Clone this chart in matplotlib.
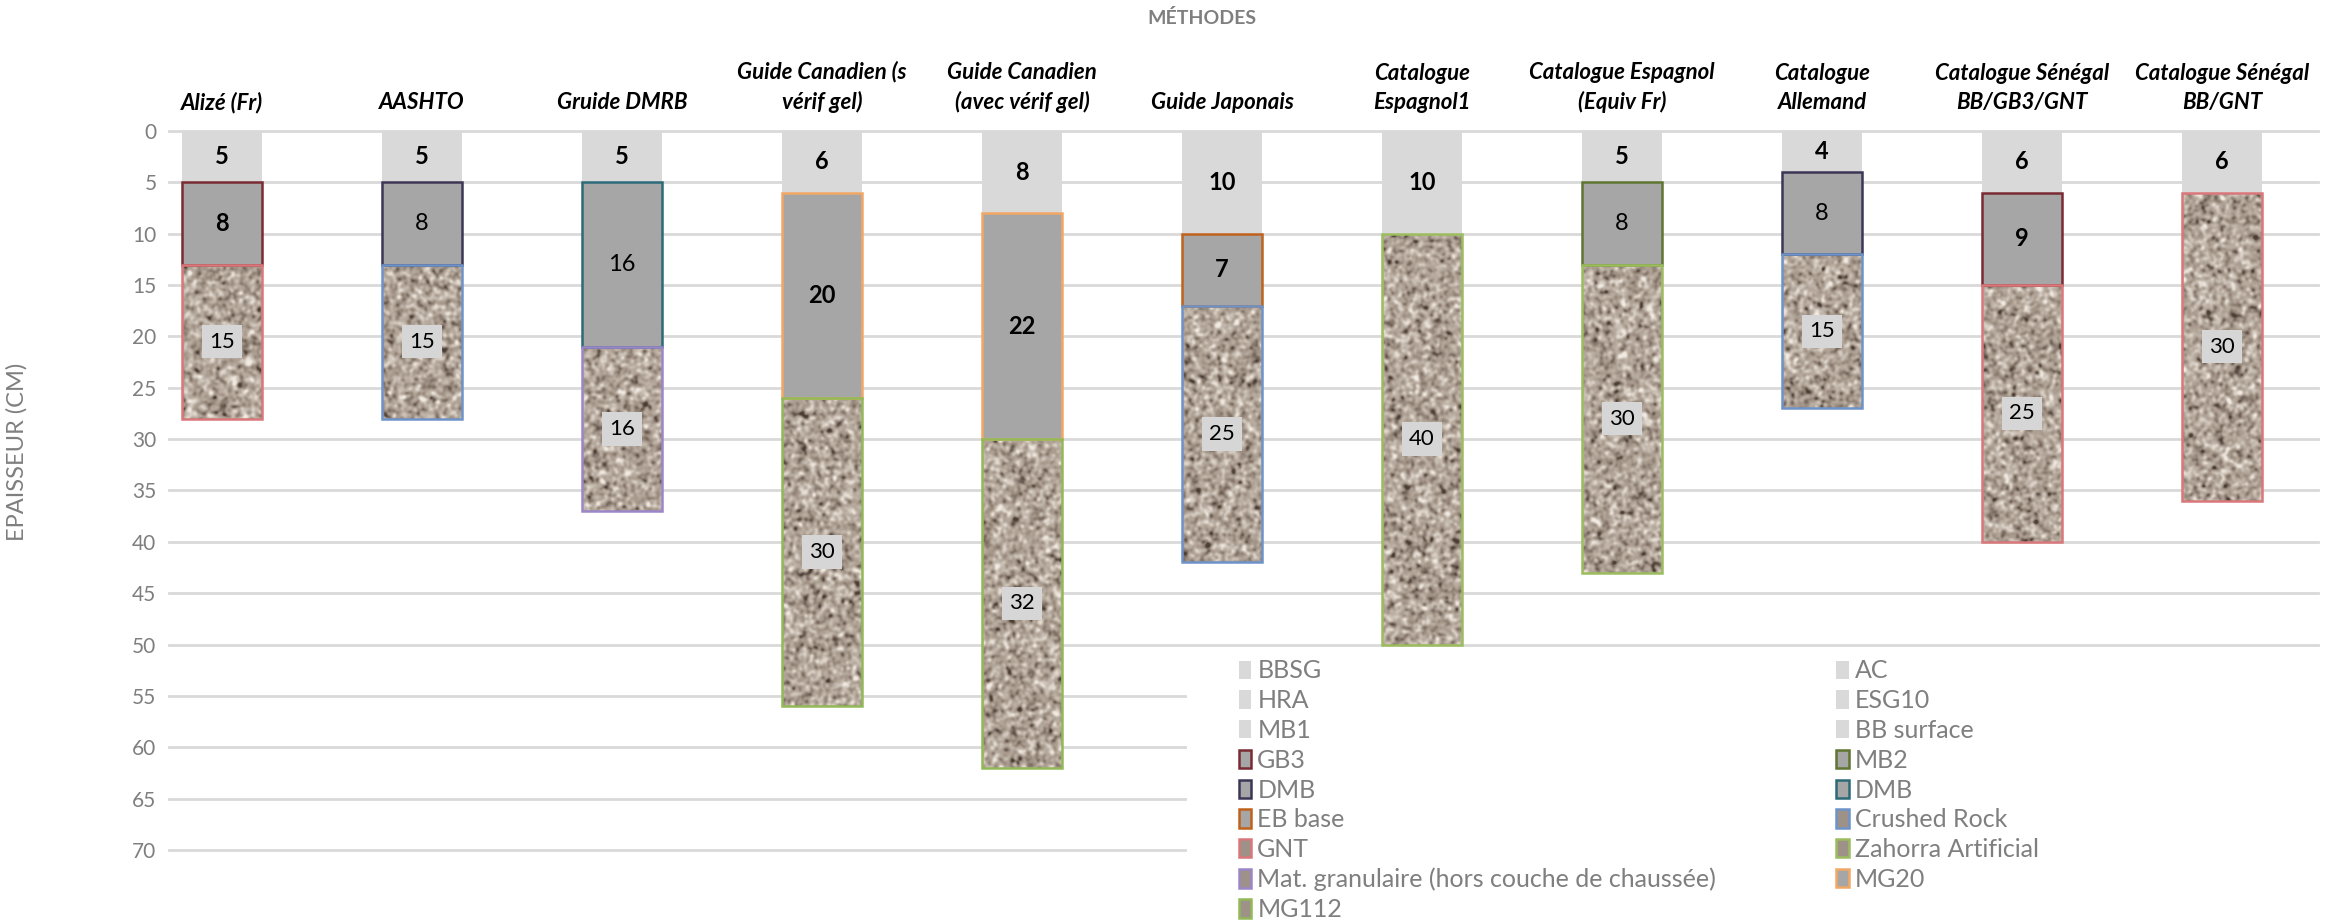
import matplotlib
matplotlib.use('Agg')
import matplotlib.pyplot as plt
import numpy as np
from matplotlib.patches import Patch, Rectangle
from matplotlib.colors import LinearSegmentedColormap

plt.rcParams['font.family'] = ['Lato', 'DejaVu Sans']

# categories (methods) shown on the top axis
categories = ['Alizé (Fr)', 'AASHTO', 'Gruide DMRB', 'Guide Canadien (s\nvérif gel)',
              'Guide Canadien\n(avec vérif gel)', 'Guide Japonais', 'Catalogue\nEspagnol1',
              'Catalogue Espagnol\n(Equiv Fr)', 'Catalogue\nAllemand',
              'Catalogue Sénégal\nBB/GB3/GNT', 'Catalogue Sénégal\nBB/GNT']

# layer thicknesses (cm), from the surface down
surface_vals = [5, 5, 5, 6, 8, 10, 10, 5, 4, 6, 6]
base_vals = [8, 8, 16, 20, 22, 7, 0, 8, 8, 9, 0]
subbase_vals = [15, 15, 16, 30, 32, 25, 40, 30, 15, 25, 30]

# which legend series each layer belongs to
surface_series = ['BBSG', 'AC', 'HRA', 'ESG10', 'ESG10', 'AC', 'MB1', 'MB1', 'AC', 'BB surface', 'BB surface']
base_series = ['GB3', 'DMB_a', 'DMB_b', 'MG20', 'MG20', 'EB base', None, 'MB2', 'DMB_a', 'GB3', None]
subbase_series = ['GNT', 'Crushed Rock', 'Mat. granulaire', 'MG112', 'MG112', 'Crushed Rock',
                  'Zahorra Artificial', 'Zahorra Artificial', 'Crushed Rock', 'GNT', 'GNT']

# legend order as in the original (row by row, 2 columns)
legend_keys = ['BBSG', 'AC', 'HRA', 'ESG10', 'MB1', 'BB surface', 'GB3', 'MB2', 'DMB_a', 'DMB_b',
               'EB base', 'Crushed Rock', 'GNT', 'Zahorra Artificial', 'Mat. granulaire', 'MG20', 'MG112']
legend_labels = {'DMB_a': 'DMB', 'DMB_b': 'DMB',
                 'Mat. granulaire': 'Mat. granulaire (hors couche de chaussée)'}

edge_colors = {'GB3': '#7a2a33', 'MB2': '#5f7530', 'DMB_a': '#3d3556', 'DMB_b': '#2c6a78',
               'EB base': '#c0621c', 'Crushed Rock': '#6e93c8', 'GNT': '#d9777a',
               'Zahorra Artificial': '#9cbd5e', 'Mat. granulaire': '#9a86c8',
               'MG20': '#f2a865', 'MG112': '#92b957'}
bold_mid = ['GB3', 'EB base', 'MG20']

LIGHT = '#d9d9d9'
MID = '#a6a6a6'
GRID = '#d9d9d9'
TXT = '#7f7f7f'

gravel = LinearSegmentedColormap.from_list(
    'gravel', ['#4b3e35', '#84766a', '#a6988b', '#bbafa3', '#d7cdc2', '#f1eae2'])


def gravel_texture(h, w, rng):
    # smoothed noise -> blotchy gravel look
    n = rng.standard_normal((h, w))
    ky = np.fft.fftfreq(h)[:, None]
    kx = np.fft.fftfreq(w)[None, :]
    g = np.exp(-2 * (np.pi * 1.6) ** 2 * (kx ** 2 + ky ** 2))
    s = np.real(np.fft.ifft2(np.fft.fft2(n) * g))
    return (s - s.mean()) / s.std()


W, H = 2341, 921
fig = plt.figure(figsize=(W / 100, H / 100), dpi=100)
ax = fig.add_axes([169 / W, 1 - 850 / H, (2318 - 169) / W, (850 - 131) / H])

x = np.arange(len(categories))
width = 0.4
surface = np.array(surface_vals)
base = np.array(base_vals)
sub = np.array(subbase_vals)

# surface layer
ax.bar(x, surface, width, bottom=0, color=LIGHT, linewidth=0, zorder=2)
for i in x:
    ax.text(i, surface[i] / 2, str(surface[i]), ha='center', va='center',
            fontsize=17, fontweight='bold', color='black', zorder=6)

# base layer
for i in x:
    if base[i] == 0:
        continue
    s = base_series[i]
    ax.bar(i, base[i], width, bottom=surface[i], color=MID, edgecolor=edge_colors[s],
           linewidth=1.8, zorder=3)
    ax.text(i, surface[i] + base[i] / 2, str(base[i]), ha='center', va='center', fontsize=17,
            fontweight='bold' if s in bold_mid else 'normal', color='black', zorder=6)

# granular layer with gravel texture
rng = np.random.default_rng(7)
for i in x:
    top = surface[i] + base[i]
    s = subbase_series[i]
    bars = ax.bar(i, sub[i], width, bottom=top, color='#a99d93', linewidth=0, zorder=2)
    tex = gravel_texture(int(sub[i] * 10.27) + 2, 82, rng)
    im = ax.imshow(tex, cmap=gravel, vmin=-2.8, vmax=2.8,
                   extent=(i - width / 2, i + width / 2, top + sub[i], top),
                   interpolation='bilinear', aspect='auto', zorder=2.5)
    im.set_clip_path(bars.patches[0])
    ax.bar(i, sub[i], width, bottom=top, fill=False, edgecolor=edge_colors[s], linewidth=1.8, zorder=3)
    ax.text(i, top + sub[i] / 2, str(sub[i]), ha='center', va='center', fontsize=16, color='black',
            zorder=6, bbox=dict(boxstyle='square,pad=0.3', facecolor='#d6d6d6', edgecolor='none'))

ax.set_xlim(-0.265, 10.48)
ax.set_ylim(70, 0)
ax.set_yticks(np.arange(0, 71, 5))
ax.set_xticks(x)
ax.set_xticklabels(categories, fontsize=16, fontweight='bold', fontstyle='italic',
                   linespacing=1.45, color='black')
ax.xaxis.set_ticks_position('top')
ax.tick_params(axis='x', length=0, pad=13)
ax.tick_params(axis='y', length=0, pad=9, labelsize=15, labelcolor=TXT)
for sp in ax.spines.values():
    sp.set_visible(False)
ax.set_axisbelow(True)
ax.yaxis.grid(True, color=GRID, linewidth=2)
for gl in ax.get_ygridlines():
    gl.set_clip_on(False)

# white area behind the legend
fig.patches.append(Rectangle((1187 / W, 0), 1 - 1187 / W, 1 - 652 / H, transform=fig.transFigure,
                             facecolor='white', edgecolor='none', zorder=1))

handles = []
for k in legend_keys:
    lab = legend_labels.get(k, k)
    if k in ['BBSG', 'AC', 'HRA', 'ESG10', 'MB1', 'BB surface']:
        handles.append(Patch(facecolor=LIGHT, edgecolor='none', label=lab))
    elif k in ['GB3', 'MB2', 'DMB_a', 'DMB_b', 'EB base', 'MG20']:
        handles.append(Patch(facecolor=MID, edgecolor=edge_colors[k], linewidth=1.8, label=lab))
    else:
        handles.append(Patch(facecolor='#9d9188', edgecolor=edge_colors[k], linewidth=1.8, label=lab))
ordered = handles[0::2] + handles[1::2]
fig.legend(handles=ordered, ncol=2, loc='upper left', bbox_to_anchor=(1226 / W, 1 - 647 / H),
           frameon=False, fontsize=18, labelcolor=TXT, handlelength=0.5, handleheight=0.75,
           handletextpad=0.25, labelspacing=0.27, columnspacing=4.8, borderpad=0)

fig.text(1202 / W, 1 - 18 / H, 'MÉTHODES', ha='center', va='center', fontsize=14,
         fontweight='bold', color=TXT)
fig.text(17 / W, 1 - 452 / H, 'EPAISSEUR (CM)', ha='center', va='center', rotation=90,
         fontsize=17, color=TXT)

fig.savefig('out.png', dpi=100)
plt.close(fig)
